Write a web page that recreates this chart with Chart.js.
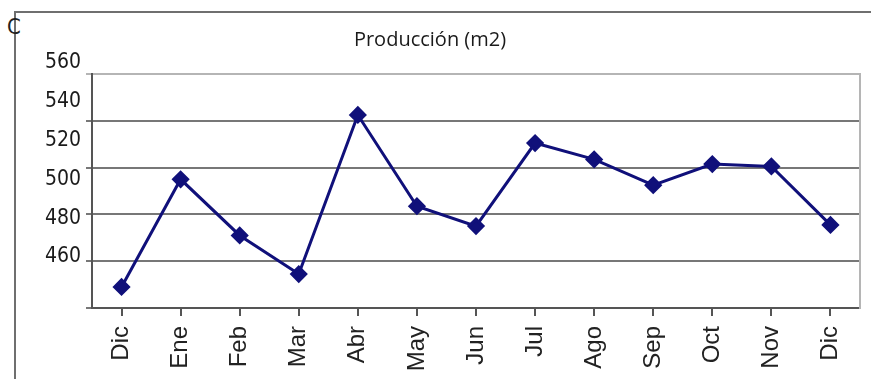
<!DOCTYPE html>
<html>
<head>
<meta charset="utf-8">
<script src="https://cdn.jsdelivr.net/npm/chart.js@4.4.1/dist/chart.umd.min.js"></script>
<style>
  html, body { margin: 0; padding: 0; background: #fff; }
  #wrap { position: relative; width: 871px; height: 379px; overflow: hidden; }
  #frame { position: absolute; left: 14px; top: 11px; right: 0; bottom: -5px;
           border-top: 2px solid #6f6f6f; border-left: 2px solid #6f6f6f; }
  #stray { position: absolute; left: 7px; top: 14px; font: 22px "DejaVu Sans Condensed", "Liberation Sans", sans-serif; color: #222; }
  canvas { position: absolute; left: 0; top: 0; }
</style>
</head>
<body>
<div id="wrap">
  <div id="frame"></div>
  <div id="stray">C</div>
  <canvas id="produccion-chart" width="871" height="379"></canvas>
</div>
<script>
// datos
const meses = ['Dic', 'Ene', 'Feb', 'Mar', 'Abr', 'May', 'Jun', 'Jul', 'Ago', 'Sep', 'Oct', 'Nov', 'Dic'];
const produccion = [469, 515, 491, 474.5, 542.5, 503.5, 495, 530.5, 523.5, 512.5, 521.5, 520.5, 495.5];
const etiquetasY = [460, 480, 500, 520, 540, 560];

const navy = '#10107a';
const ctx = document.getElementById('produccion-chart').getContext('2d');

const config = {
    type: 'line',
    data: {
        labels: meses,
        datasets: [{
            label: 'Producción (m2)',
            data: produccion,
            borderColor: navy,
            backgroundColor: navy,
            borderWidth: 3,
            pointStyle: 'rectRot',
            pointRadius: 7,
            pointHoverRadius: 7,
            fill: false,
            tension: 0
        }]
    },
    options: {
        responsive: false,
        animation: false,
        layout: { padding: { left: 0, right: 11, top: 0, bottom: 0 } },
        plugins: {
            legend: { display: false },
            tooltip: { enabled: false },
            title: {
                display: true,
                text: 'Producción (m2)',
                color: '#1a1a1a',
                font: { family: 'Open Sans', size: 20, weight: 'normal' },
                padding: { top: 28, bottom: 22 }
            }
        },
        scales: {
            x: {
                offset: true,
                grid: {
                    drawOnChartArea: false,
                    drawTicks: true,
                    tickLength: 8,
                    color: '#555',
                    lineWidth: 2
                },
                border: { color: '#555', width: 2 },
                ticks: {
                    minRotation: 90,
                    maxRotation: 90,
                    padding: 10,
                    color: '#222',
                    font: { family: 'Liberation Sans', size: 24 }
                },
                afterFit: (scale) => { scale.height = 71; }
            },
            y: {
                position: 'left',
                weight: 0,
                min: 460,
                max: 560,
                ticks: { display: false, stepSize: 20 },
                grid: {
                    color: (c) => c.tick && c.tick.value === 560 ? '#b5b5b5' : '#777',
                    lineWidth: 2,
                    tickLength: 6
                },
                border: { color: '#555', width: 2 },
                afterFit: (scale) => { scale.width = 6; }
            },
            // eje solo de etiquetas, como aparecen en la imagen
            yLabels: {
                position: 'left',
                weight: 1,
                min: 433.7,
                max: 554.3,
                grid: { display: false, drawTicks: false },
                border: { display: false },
                ticks: {
                    padding: 5,
                    color: '#1a1a1a',
                    font: { family: 'DejaVu Sans Condensed', size: 21 }
                },
                afterBuildTicks: (scale) => { scale.ticks = etiquetasY.map(v => ({ value: v })); },
                afterFit: (scale) => { scale.width = 86; }
            },
            yRight: {
                position: 'right',
                min: 460,
                max: 560,
                grid: { display: false },
                ticks: { display: false },
                border: { color: '#b5b5b5', width: 2 },
                afterFit: (scale) => { scale.width = 0; }
            }
        }
    }
};

const produccionChart = new Chart(ctx, config);
</script>
</body>
</html>
